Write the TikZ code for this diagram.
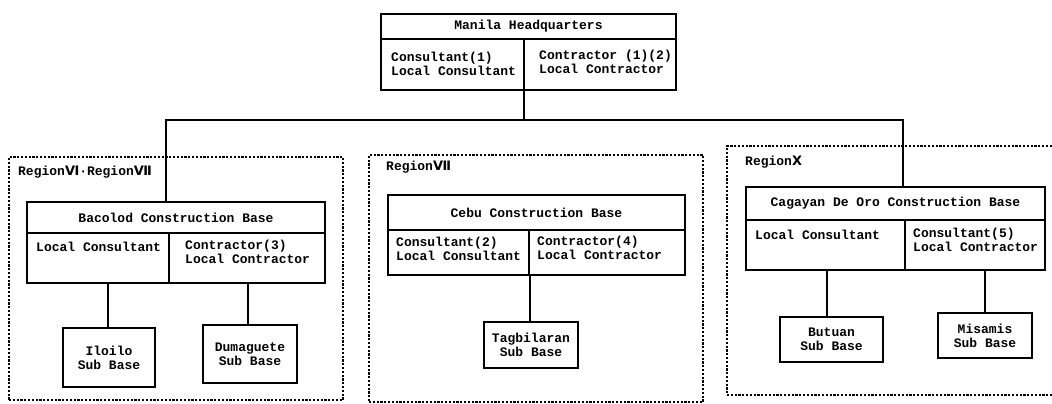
\documentclass[tikz,border=0pt]{standalone}
\usepackage{fontspec}
\setmonofont{Liberation Mono}
\newfontfamily\romfont{DejaVu Sans}
\begin{document}
\begin{tikzpicture}[x=1pt,y=-1pt,
  cell/.style={draw, line width=1.4pt, rectangle, inner sep=0pt, outer sep=0pt, anchor=north west},
  txt/.style={font=\ttfamily\bfseries\fontsize{13}{14}\selectfont, inner sep=0pt, align=left, anchor=north west},
  ctxt/.style={font=\ttfamily\bfseries\fontsize{13}{14}\selectfont, inner sep=0pt, align=center},
  link/.style={line width=1.5pt},
  region/.style={draw, line width=1.2pt, dash pattern=on 2.2pt off 1.6pt, outer sep=0pt}]
\useasboundingbox (0,0) rectangle (1052,404);
\clip (0,0) rectangle (1052,404);
\fill[white] (0,0) rectangle (1052,404);

% region frames
\node[region, anchor=north west, minimum width=334pt, minimum height=243pt, inner sep=0pt] (r1) at (9,157) {};
\node[region, anchor=north west, minimum width=334pt, minimum height=247pt, inner sep=0pt] (r2) at (369,155) {};
\node[region, anchor=north west, minimum width=340pt, minimum height=249pt, inner sep=0pt] (r3) at (727,146) {};
\node[txt] (r1t) at (18,166) {Region{\romfont Ⅵ}·Region{\romfont Ⅶ}};
\node[txt] (r2t) at (386,161) {Region{\romfont Ⅶ}};
\node[txt] (r3t) at (745,156) {Region{\romfont Ⅹ}};

% Manila HQ
\node[cell, minimum width=295pt, minimum height=25pt] (hq) at (381,14) {};
\node[cell, minimum width=143pt, minimum height=51pt] (hql) at (381,39) {};
\node[cell, minimum width=152pt, minimum height=51pt] (hqr) at (524,39) {};
\node[ctxt] at (hq.center) {Manila Headquarters};
\node[txt] at (391,52) {Consultant(1)\\Local Consultant};
\node[txt] at (539,50) {Contractor (1)(2)\\Local Contractor};

% Bacolod
\node[cell, minimum width=298pt, minimum height=31pt] (bac) at (27,202) {};
\node[cell, minimum width=142pt, minimum height=50pt] (bacl) at (27,233) {};
\node[cell, minimum width=156pt, minimum height=50pt] (bacr) at (169,233) {};
\node[ctxt] at (bac.center) {Bacolod Construction Base};
\node[txt] at (36,242) {Local Consultant};
\node[txt] at (185,240) {Contractor(3)\\Local Contractor};
\node[cell, minimum width=92pt, minimum height=59pt] (ilo) at (63,328) {};
\node[ctxt] at (ilo.center) {Iloilo\\Sub Base};
\node[cell, minimum width=94pt, minimum height=58pt] (dum) at (203,325) {};
\node[ctxt] at (dum.center) {Dumaguete\\Sub Base};

% Cebu
\node[cell, minimum width=297pt, minimum height=35pt] (ceb) at (388,195) {};
\node[cell, minimum width=141pt, minimum height=45pt] (cebl) at (388,230) {};
\node[cell, minimum width=156pt, minimum height=45pt] (cebr) at (529,230) {};
\node[ctxt] at (ceb.center) {Cebu Construction Base};
\node[txt] at (396,237) {Consultant(2)\\Local Consultant};
\node[txt] at (537,236) {Contractor(4)\\Local Contractor};
\node[cell, minimum width=94pt, minimum height=46pt] (tag) at (484,322) {};
\node[ctxt] at (tag.center) {Tagbilaran\\Sub Base};

% Cagayan de Oro
\node[cell, minimum width=299pt, minimum height=33pt] (cag) at (746,187) {};
\node[cell, minimum width=159pt, minimum height=50pt] (cagl) at (746,220) {};
\node[cell, minimum width=140pt, minimum height=50pt] (cagr) at (905,220) {};
\node[ctxt] at (cag.center) {Cagayan De Oro Construction Base};
\node[txt] at (755,230) {Local Consultant};
\node[txt] at (913,228) {Consultant(5)\\Local Contractor};
\node[cell, minimum width=103pt, minimum height=45pt] (but) at (780,317) {};
\node[ctxt] at (but.center) {Butuan\\Sub Base};
\node[cell, minimum width=94pt, minimum height=45pt] (mis) at (938,313) {};
\node[ctxt] at (mis.center) {Misamis\\Sub Base};

% connectors
\coordinate (j) at (524,120);
\draw[link] (hql.south east) -- (j);
\draw[link] (bac.north -| 166,0) |- (j) -| (cag.north -| 903,0);
\draw[link] (ceb.north -| 527,0) -- (ceb.north -| 527,120);
\draw[link] (bacl.south -| 108,0) -- (ilo.north -| 108,0);
\draw[link] (bacr.south -| 248,0) -- (dum.north -| 248,0);
\draw[link] (cebr.south -| 530,0) -- (tag.north -| 530,0);
\draw[link] (cagl.south -| 827,0) -- (but.north -| 827,0);
\draw[link] (cagr.south -| 985,0) -- (mis.north -| 985,0);
\end{tikzpicture}
\end{document}
